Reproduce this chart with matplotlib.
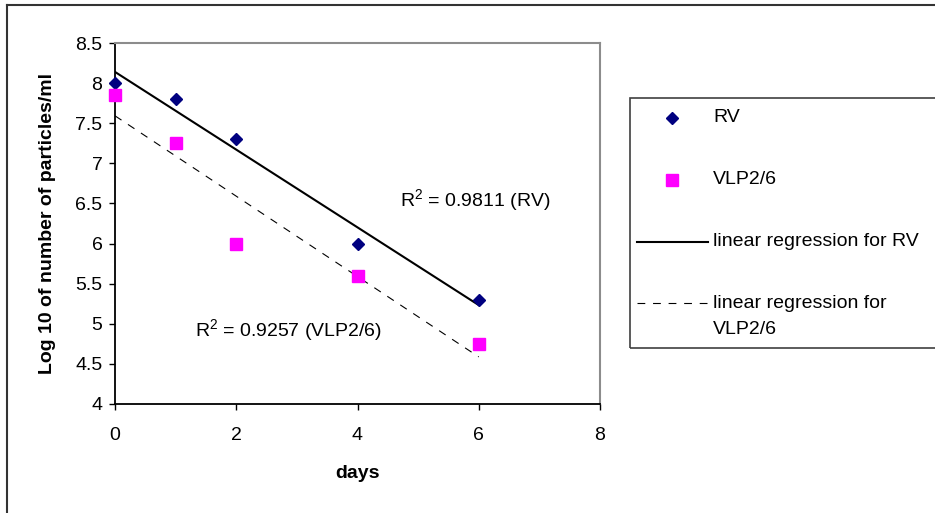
import matplotlib.pyplot as plt
import numpy as np
from matplotlib.lines import Line2D
from matplotlib.patches import Rectangle

plt.rcParams['font.family'] = ['Liberation Sans', 'DejaVu Sans']
plt.rcParams['mathtext.default'] = 'regular'

# data
days = [0, 1, 2, 4, 6]
rv = [8.0, 7.8, 7.3, 6.0, 5.3]
vlp = [7.85, 7.25, 6.0, 5.6, 4.75]
r2_rv = "R$^2$ = 0.9811 (RV)"
r2_vlp = "R$^2$ = 0.9257 (VLP2/6)"
yticks = [4, 4.5, 5, 5.5, 6, 6.5, 7, 7.5, 8, 8.5]
ytick_labels = ['4', '4.5', '5', '5.5', '6', '6.5', '7', '7.5', '8', '8.5']
xticks = [0, 2, 4, 6, 8]

W, H = 935, 513
fig = plt.figure(figsize=(W/100, H/100), dpi=100)
ax = fig.add_axes([115/W, 1-404/H, 485/W, 361/H])

# regression lines
xf = np.array([min(days), max(days)])
p_rv = np.polyfit(days, rv, 1)
p_vlp = np.polyfit(days, vlp, 1)
ax.plot(xf, np.polyval(p_rv, xf), color='black', lw=1.5, zorder=2)
ax.plot(xf, np.polyval(p_vlp, xf), color='black', lw=0.8,
        dashes=(7, 7), zorder=2)

ax.plot(days, rv, 'D', color='#000080', ms=6.3, ls='none',
        clip_on=False, zorder=3)
ax.plot(days, vlp, 's', color='#FF00FF', ms=9.3, ls='none',
        clip_on=False, zorder=3)

ax.text(4.7, 6.54, r2_rv, fontsize=14, va='center', ha='left')
ax.text(1.32, 4.92, r2_vlp, fontsize=14, va='center', ha='left')

ax.set_xlim(0, 8)
ax.set_ylim(4, 8.5)
ax.set_xticks(xticks)
ax.set_yticks(yticks)
ax.set_yticklabels(ytick_labels)
ax.tick_params(axis='both', direction='out', length=4, width=1,
               labelsize=14, color='black')
ax.tick_params(axis='x', pad=12.5)
ax.tick_params(axis='y', pad=5)

for s in ['left', 'bottom']:
    ax.spines[s].set_color('black')
    ax.spines[s].set_linewidth(1.3)
for s in ['top', 'right']:
    ax.spines[s].set_color('#8c8c8c')
    ax.spines[s].set_linewidth(1.5)

ax.set_xlabel('days', fontsize=14, fontweight='bold')
ax.set_ylabel('Log 10 of number of particles/ml', fontsize=14,
              fontweight='bold')
ax.xaxis.set_label_coords(0.5, -(465-404)/361)
ax.yaxis.set_label_coords(-(115-56)/485, 0.5)

# legend drawn by hand
def fx(px):
    return px / W


def fy(py):
    return 1 - py / H


fig.add_artist(Rectangle((fx(630), fy(348)), fx(940) - fx(630),
                         fy(98) - fy(348), fill=False, ec='#404040',
                         lw=1.2, transform=fig.transFigure))
fig.add_artist(Line2D([fx(672)], [fy(118)], marker='D', color='#000080',
                      ms=6.3, ls='none'))
fig.add_artist(Line2D([fx(672)], [fy(180)], marker='s', color='#FF00FF',
                      ms=9.3, ls='none'))
fig.add_artist(Line2D([fx(637), fx(708)], [fy(242), fy(242)],
                      color='black', lw=1.5))
fig.add_artist(Line2D([fx(637), fx(708)], [fy(303), fy(303)],
                      color='black', lw=0.8, dashes=(7, 7)))
fig.text(fx(713), fy(118), 'RV', fontsize=14, va='center')
fig.text(fx(713), fy(180), 'VLP2/6', fontsize=14, va='center')
fig.text(fx(713), fy(242), 'linear regression for RV', fontsize=14,
         va='center')
fig.text(fx(713), fy(303), 'linear regression for', fontsize=14,
         va='center')
fig.text(fx(713), fy(330), 'VLP2/6', fontsize=14, va='center')

# outer chart border (top and left visible)
fig.add_artist(Line2D([fx(7), fx(935)], [fy(5), fy(5)], color='#333333',
                      lw=1.5))
fig.add_artist(Line2D([fx(7), fx(7)], [fy(5), fy(513)], color='#333333',
                      lw=1.5))

fig.savefig('out.png', dpi=100)
